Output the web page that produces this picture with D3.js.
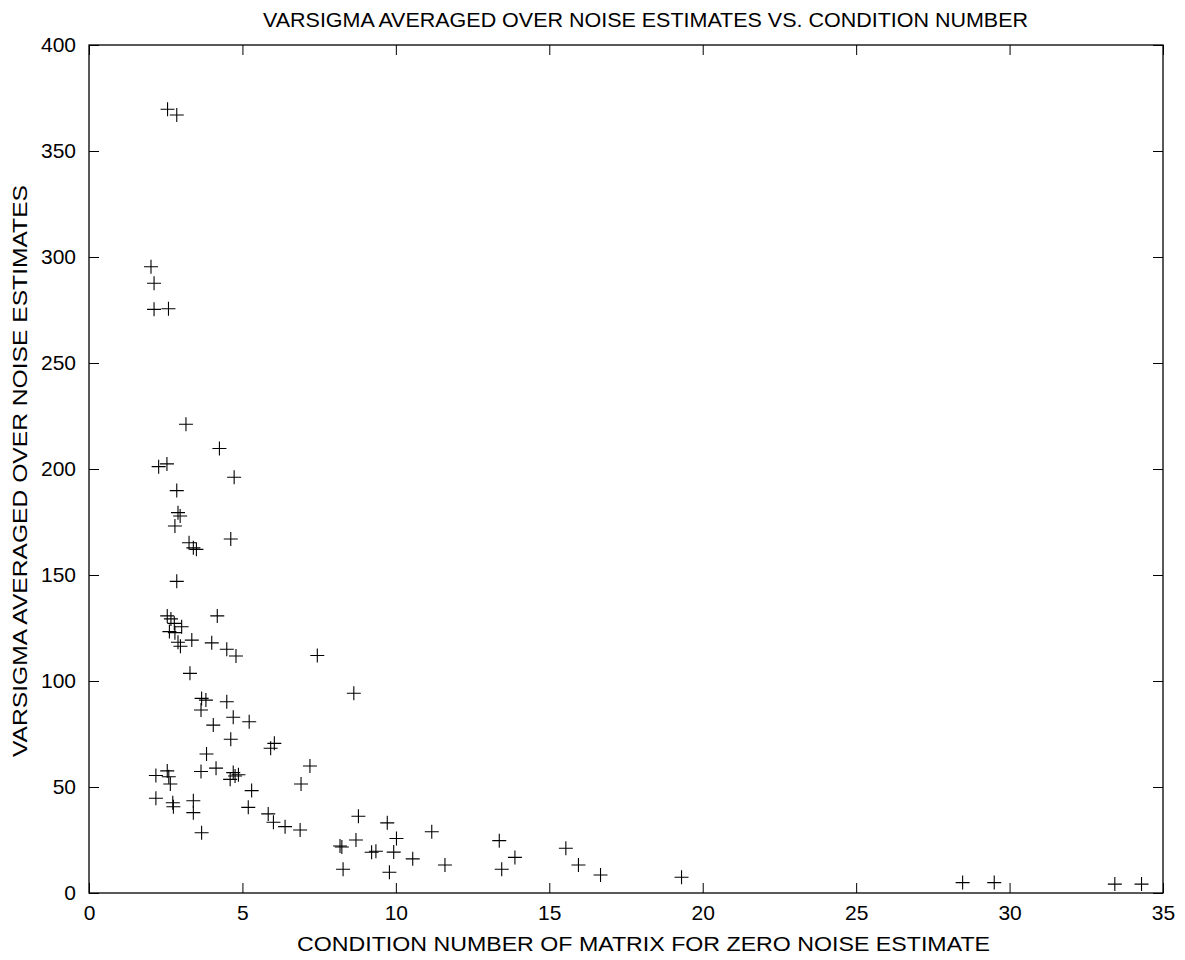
<!DOCTYPE html>
<html>
<head>
<meta charset="utf-8">
<script src="https://cdn.jsdelivr.net/npm/d3@7"></script>
<style>
  html, body { margin: 0; padding: 0; background: #fff; }
  svg { display: block; }
  text { font-family: "Liberation Sans", Arial, Helvetica, sans-serif; fill: #000; }
</style>
</head>
<body>
<svg id="chart" width="1185" height="960"></svg>
<script>
// Condition number of the zero-noise matrix for each case
const conditionNumber = [
  2.56, 2.86,
  2.02, 2.12, 2.12, 2.59,
  3.16, 4.25, 2.27, 2.54, 4.73, 2.86,
  2.90, 2.97, 2.80, 3.26, 3.40, 3.50, 4.62, 2.86,
  2.55, 2.67, 2.78, 3.02, 2.62, 2.80, 2.90, 2.98, 3.35, 4.18, 4.00, 4.49, 4.79,
  3.29, 3.67, 3.81, 3.65, 4.49, 4.70, 5.22, 4.05, 4.62, 6.04, 5.92, 3.83,
  4.14, 3.65, 2.55, 2.60, 2.18, 2.65, 4.60, 4.70, 4.76, 4.87, 5.30,
  2.18, 2.73, 2.75, 3.40, 3.40, 5.19, 5.84, 6.01, 3.67,
  7.44, 8.63, 7.20, 6.91, 6.39, 6.88,
  8.78, 9.72, 10.02, 8.70, 8.18, 8.24, 9.21, 9.35, 9.93, 8.28, 9.79,
  11.17, 10.55, 11.60,
  13.37, 13.88, 13.45, 15.54, 15.95, 16.67, 19.31,
  28.47, 29.50, 33.43, 34.30
];

// Varsigma averaged over the noise estimates, same order as above
const varsigmaAvg = [
  369.7, 367.0,
  295.4, 287.6, 275.3, 275.6,
  221.1, 209.7, 201.1, 202.4, 196.1, 189.8,
  179.4, 177.8, 173.1, 165.2, 162.8, 162.1, 167.0, 147.0,
  130.7, 129.3, 127.2, 125.6, 123.3, 122.8, 118.3, 116.4, 119.3, 130.7, 118.0, 115.0, 111.8,
  103.6, 91.8, 91.0, 86.3, 90.2, 82.9, 80.8, 79.2, 72.5, 70.6, 68.3, 65.6,
  58.9, 57.3, 57.6, 54.8, 55.4, 51.4, 53.6, 56.8, 55.2, 55.8, 48.3,
  44.7, 42.6, 40.7, 43.5, 37.9, 40.4, 37.3, 33.4, 28.4,
  112.0, 94.2, 59.9, 51.4, 31.3, 29.7,
  36.2, 33.1, 25.7, 25.0, 22.2, 21.7, 19.2, 19.7, 19.3, 11.2, 9.8,
  28.9, 16.1, 13.2,
  24.7, 16.8, 11.2, 21.1, 13.2, 8.5, 7.4,
  4.9, 4.9, 4.2, 4.2
];

const xTicks = [0, 5, 10, 15, 20, 25, 30, 35];
const yTicks = [0, 50, 100, 150, 200, 250, 300, 350, 400];

const titleText = "VARSIGMA AVERAGED OVER NOISE ESTIMATES VS. CONDITION NUMBER";
const xLabelText = "CONDITION NUMBER OF MATRIX FOR ZERO NOISE ESTIMATE";
const yLabelText = "VARSIGMA AVERAGED OVER NOISE ESTIMATES";

const svg = d3.select("#chart");
const margin = { left: 89, top: 45, right: 1185 - 1163, bottom: 960 - 893 };
const W = 1185 - margin.left - margin.right;
const H = 960 - margin.top - margin.bottom;

const x = d3.scaleLinear().domain([0, 35]).range([0, W]);
const y = d3.scaleLinear().domain([0, 400]).range([H, 0]);

const g = svg.append("g").attr("transform", `translate(${margin.left},${margin.top})`);

const tickLen = 10;
const tickFont = 21;
const labelFont = 20;

// Axes with inward ticks on all four sides of the box
function styleAxis(sel) {
  sel.select(".domain").remove();
  sel.selectAll(".tick line").attr("stroke", "#000").attr("stroke-width", 1);
  sel.selectAll(".tick text").attr("font-size", tickFont).attr("fill", "#000")
    .attr("font-family", '"Liberation Sans", Arial, Helvetica, sans-serif');
}

g.append("g").attr("transform", `translate(0,${H})`)
  .call(d3.axisBottom(x).tickValues(xTicks).tickSize(-tickLen).tickPadding(12).tickFormat(d3.format("d")))
  .call(styleAxis);

g.append("g")
  .call(d3.axisTop(x).tickValues(xTicks).tickSize(-tickLen).tickFormat(""))
  .call(styleAxis);

g.append("g")
  .call(d3.axisLeft(y).tickValues(yTicks).tickSize(-tickLen).tickPadding(13).tickFormat(d3.format("d")))
  .call(styleAxis);

g.append("g").attr("transform", `translate(${W},0)`)
  .call(d3.axisRight(y).tickValues(yTicks).tickSize(-tickLen).tickFormat(""))
  .call(styleAxis);

// Plot box
g.append("rect")
  .attr("x", 0).attr("y", 0).attr("width", W).attr("height", H)
  .attr("fill", "none").attr("stroke", "#000").attr("stroke-width", 1.3);

// Plus markers
const arm = 7;
const pts = conditionNumber.map((c, i) => ({ c, v: varsigmaAvg[i] }));
const marks = g.append("g").attr("stroke", "#000").attr("stroke-width", 1.1).attr("fill", "none");
marks.selectAll("path").data(pts).join("path")
  .attr("d", d => {
    const px = x(d.c), py = y(d.v);
    return `M${px - arm},${py}H${px + arm}M${px},${py - arm}V${py + arm}`;
  });

// Titles, stretched to their set widths
svg.append("text")
  .attr("x", 263).attr("y", 27)
  .attr("font-size", labelFont)
  .attr("textLength", 765).attr("lengthAdjust", "spacingAndGlyphs")
  .text(titleText);

svg.append("text")
  .attr("x", 297).attr("y", 951)
  .attr("font-size", labelFont)
  .attr("textLength", 693).attr("lengthAdjust", "spacingAndGlyphs")
  .text(xLabelText);

svg.append("text")
  .attr("transform", "translate(27,757) rotate(-90)")
  .attr("font-size", labelFont)
  .attr("textLength", 572).attr("lengthAdjust", "spacingAndGlyphs")
  .text(yLabelText);
</script>
</body>
</html>
